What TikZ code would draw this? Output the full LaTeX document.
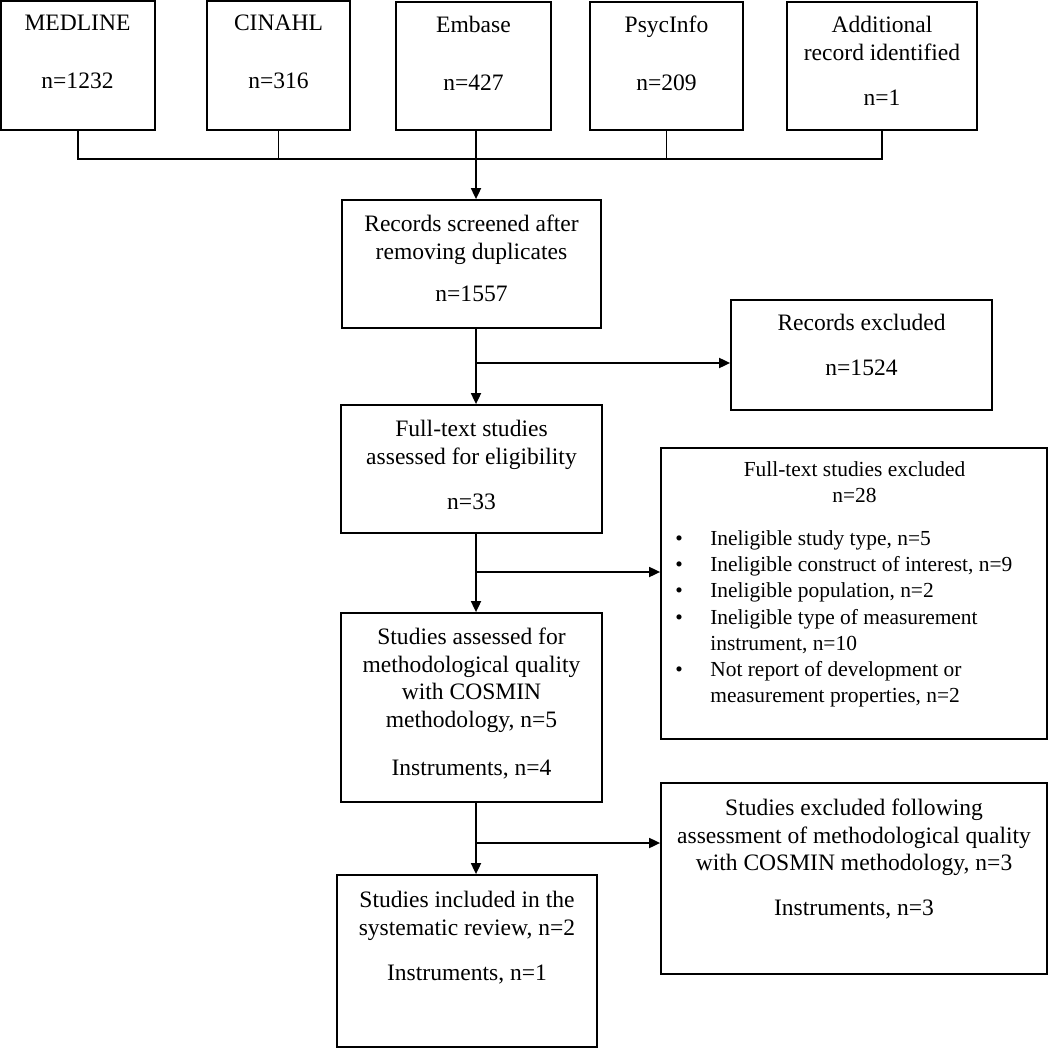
\documentclass[tikz,border=0pt]{standalone}
\usepackage{fontspec}
\setmainfont{Liberation Serif}
\usetikzlibrary{arrows.meta, fit}

\newcommand{\boxfont}{\fontsize{13.4}{15.9}\selectfont}
\newcommand{\listfont}{\fontsize{12.2}{14.9}\selectfont}

\begin{document}
\begin{tikzpicture}[x=0.02cm, y=-0.02cm,
% Box and text styles
    box/.style={draw, line width=1pt, inner sep=0pt},
    txt/.style={anchor=north, align=center, inner sep=0pt, font=\boxfont},
    lst/.style={anchor=north west, align=left, inner sep=0pt, font=\listfont},
% Connector styles
    link/.style={line width=1pt},
    arr/.style={line width=1pt, -{Triangle[length=0.22cm,width=0.2cm]}}
    ]
\useasboundingbox (0,0) rectangle (1050,1050);
%% Database boxes
\node[box, fit={(1,1) (155,130)}]   (med) {};
\node[box, fit={(207,1) (350,130)}] (cin) {};
\node[box, fit={(396,2) (551,130)}] (emb) {};
\node[box, fit={(590,2) (743,130)}] (psy) {};
\node[box, fit={(787,2) (977,130)}] (add) {};
\node[txt] (medtxt) at (77.5,10.7)  {\strut MEDLINE\\[17.1pt]n=1232};
\node[txt] (cintxt) at (278.5,10.7) {\strut CINAHL\\[17.1pt]n=316};
\node[txt] (embtxt) at (473.5,12.2) {\strut Embase\\[17.1pt]n=427};
\node[txt] (psytxt) at (666.5,12.2) {\strut PsycInfo\\[17.1pt]n=209};
\node[txt] (addtxt) at (882,12.2)   {\strut Additional\\record identified\\[9.7pt]n=1};
%% Main column
\node[box, fit={(342,200) (601,328)}] (rs) {};
\node[box, fit={(341,405) (602,533)}] (ft) {};
\node[box, fit={(341,613) (602,802)}] (sa) {};
\node[box, fit={(337,875) (597,1047)}] (si) {};
\node[txt] (rstxt) at (471.5,211.2) {\strut Records screened after\\removing duplicates\\[8pt]n=1557};
\node[txt] (fttxt) at (471.5,416.2) {\strut Full-text studies\\assessed for eligibility\\[9.7pt]n=33};
\node[txt] (satxt) at (471.5,624.2) {\strut Studies assessed for\\methodological quality\\with COSMIN\\methodology, n=5\\[11.4pt]Instruments, n=4};
\node[txt] (sitxt) at (467,887.2)   {\strut Studies included in the\\systematic review, n=2\\[9.7pt]Instruments, n=1};
%% Exclusion boxes
\node[box, fit={(731,300) (992,410)}]  (rx) {};
\node[box, fit={(661,448) (1047,739)}] (fx) {};
\node[box, fit={(661,783) (1047,974)}] (sx) {};
\node[txt] (rxtxt) at (861.5,310.2) {\strut Records excluded\\[10.2pt]n=1524};
\node[txt, font=\listfont] (fxtxt) at (854.5,457.8) {\strut Full-text studies excluded\\n=28};
\node[lst] (fxlist) at (675,526.8) {%
    \strut\makebox[0.7cm][l]{\textbullet}Ineligible study type, n=5\\
    \makebox[0.7cm][l]{\textbullet}Ineligible construct of interest, n=9\\
    \makebox[0.7cm][l]{\textbullet}Ineligible population, n=2\\
    \makebox[0.7cm][l]{\textbullet}Ineligible type of measurement\\
    \hspace*{0.7cm}instrument, n=10\\
    \makebox[0.7cm][l]{\textbullet}Not report of development or\\
    \hspace*{0.7cm}measurement properties, n=2};
\node[txt] (sxtxt) at (854,795.2) {\strut Studies excluded following\\assessment of methodological quality\\with COSMIN methodology, n=3\\[9.7pt]Instruments, n=3};
%% Connectors
\coordinate (bus)   at (0,159);
\coordinate (spine) at (476,0);
\coordinate (j1) at (476,363);
\coordinate (j2) at (476,572);
\coordinate (j3) at (476,843);
\draw[link] (med.south) -- (med.south |- bus) -- (add.south |- bus) -- (add.south);
\draw[link] (cin.south) -- (cin.south |- bus);
\draw[link] (psy.south) -- (psy.south |- bus);
\draw[arr] (emb.south -| spine) -- (rs.north -| spine);
\draw[arr] (rs.south -| spine) -- (ft.north -| spine);
\draw[arr] (ft.south -| spine) -- (sa.north -| spine);
\draw[arr] (sa.south -| spine) -- (si.north -| spine);
\draw[arr] (j1) -- (j1 -| rx.west);
\draw[arr] (j2) -- (j2 -| fx.west);
\draw[arr] (j3) -- (j3 -| sx.west);
\end{tikzpicture}
\end{document}
